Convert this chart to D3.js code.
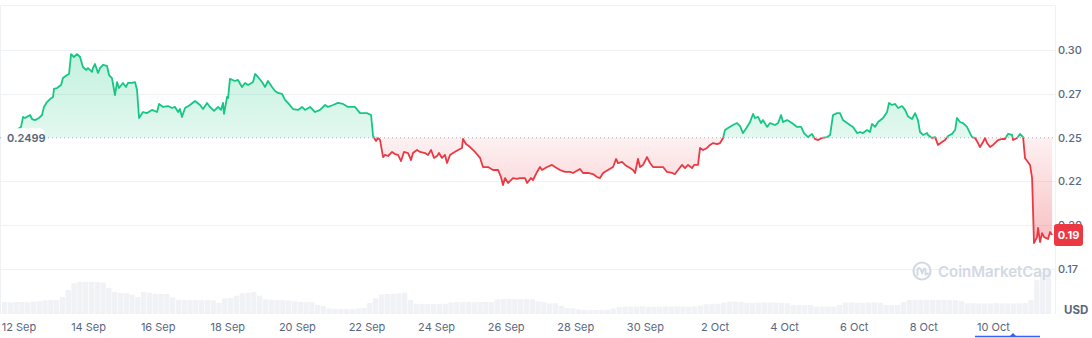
<!DOCTYPE html>
<html><head><meta charset="utf-8">
<script src="https://cdn.jsdelivr.net/npm/d3@7"></script>
<style>html,body{margin:0;padding:0;background:#fff;}svg{display:block;font-family:Inter,"Noto Sans",sans-serif;}</style>
</head><body><svg id="chart" width="1092" height="338"></svg>
<script>
// ---------- DATA ----------
const startTime = "2024-09-11T12:00:00Z";
// hours after startTime
const hours = [
0.3, 5.8, 11.3, 13.4, 14.8, 16.1, 19.6, 21.0, 23.0, 25.8,
27.9, 29.2, 31.3, 33.4, 35.5, 36.1, 38.2, 41.0, 42.3, 45.1,
46.5, 47.9, 49.9, 52.0, 54.1, 56.1, 58.2, 59.6, 62.4, 63.0,
64.4, 66.5, 67.9, 69.9, 72.7, 74.1, 76.1, 78.2, 79.6, 81.0,
83.7, 85.8, 87.2, 89.9, 92.0, 93.4, 94.8, 97.5, 100.3, 103.7,
107.2, 108.6, 111.3, 114.8, 117.5, 119.6, 121.7, 123.0, 124.4, 126.5,
129.9, 133.4, 136.8, 138.9, 141.7, 143.7, 146.5, 149.3, 151.3, 152.7,
153.4, 155.5, 156.2, 157.5, 161.0, 163.0, 165.8, 167.9, 170.0, 173.4,
174.8, 176.8, 179.6, 181.7, 183.7, 186.5, 188.6, 190.6, 193.4, 195.5,
197.5, 201.0, 204.4, 207.2, 209.3, 212.7, 216.2, 219.6, 223.1, 225.1,
228.6, 232.0, 235.5, 238.9, 243.7, 247.2, 249.3, 252.0, 254.8, 256.2,
258.2, 259.6, 261.0, 263.1, 264.4, 266.5, 269.3, 271.3, 273.4, 275.5,
277.5, 280.3, 282.4, 283.7, 286.5, 288.6, 292.0, 294.1, 296.2, 298.2,
300.3, 301.7, 303.7, 305.8, 307.2, 309.3, 311.3, 314.8, 317.5, 318.2,
320.3, 323.1, 326.5, 330.0, 332.0, 335.5, 338.9, 342.4, 344.4, 345.8,
347.2, 349.3, 352.7, 355.5, 357.5, 361.0, 362.4, 365.1, 366.5, 369.3,
371.3, 372.7, 376.2, 379.6, 381.7, 385.1, 388.6, 392.0, 394.1, 398.9,
401.0, 404.4, 407.9, 410.6, 412.7, 414.8, 418.2, 421.7, 423.8, 425.1,
427.9, 430.0, 433.4, 435.5, 436.9, 438.9, 440.3, 442.4, 445.1, 447.2,
449.3, 452.7, 456.2, 458.9, 462.4, 464.4, 466.5, 469.3, 471.3, 473.4,
476.2, 477.6, 480.3, 481.7, 483.8, 486.5, 488.6, 490.7, 493.4, 495.5,
497.6, 498.9, 501.0, 504.4, 507.2, 509.3, 511.3, 514.1, 516.2, 518.2,
519.6, 521.7, 523.8, 525.1, 527.9, 530.0, 533.4, 535.5, 537.6, 538.9,
541.7, 545.1, 548.6, 551.4, 553.4, 556.2, 558.9, 561.0, 563.1, 565.8,
569.3, 571.4, 573.4, 576.2, 578.2, 580.3, 583.1, 585.1, 587.2, 590.0,
592.0, 594.1, 596.9, 598.9, 600.3, 602.4, 604.5, 607.9, 610.7, 612.0,
614.1, 616.2, 618.3, 621.0, 623.1, 625.2, 627.9, 630.0, 632.0, 633.4,
635.5, 638.3, 638.9, 641.7, 643.8, 645.8, 648.6, 650.7, 652.7, 655.5,
657.6, 658.9, 661.0, 663.1, 665.8, 667.9, 669.3, 671.4, 673.4, 674.8,
676.9, 678.3, 679.6, 681.7, 683.8, 687.2, 690.0, 692.0, 694.1, 696.9,
697.6, 700.3, 702.4, 704.5, 705.8, 709.3, 710.7, 712.0, 714.1, 714.8,
716.2, 717.6, 719.0, 721.7, 723.1, 724.5
];
// price in USD
const prices = [
0.2499, 0.2526, 0.2549, 0.2561, 0.2618, 0.2612, 0.2629, 0.2606, 0.2600, 0.2612,
0.2629, 0.2675, 0.2703, 0.2720, 0.2732, 0.2778, 0.2783, 0.2800, 0.2840, 0.2857,
0.2863, 0.2977, 0.2960, 0.2977, 0.2960, 0.2903, 0.2886, 0.2897, 0.2875, 0.2897,
0.2920, 0.2869, 0.2897, 0.2915, 0.2909, 0.2857, 0.2840, 0.2743, 0.2817, 0.2783,
0.2812, 0.2789, 0.2812, 0.2812, 0.2817, 0.2772, 0.2612, 0.2646, 0.2640, 0.2658,
0.2646, 0.2692, 0.2675, 0.2680, 0.2669, 0.2675, 0.2646, 0.2663, 0.2618, 0.2669,
0.2686, 0.2709, 0.2686, 0.2663, 0.2698, 0.2675, 0.2652, 0.2675, 0.2658, 0.2698,
0.2635, 0.2732, 0.2726, 0.2835, 0.2823, 0.2829, 0.2789, 0.2812, 0.2800, 0.2817,
0.2863, 0.2846, 0.2817, 0.2789, 0.2823, 0.2789, 0.2766, 0.2755, 0.2749, 0.2715,
0.2698, 0.2663, 0.2658, 0.2675, 0.2658, 0.2675, 0.2646, 0.2658, 0.2686, 0.2675,
0.2686, 0.2698, 0.2692, 0.2675, 0.2675, 0.2640, 0.2640, 0.2640, 0.2629, 0.2509,
0.2481, 0.2498, 0.2486, 0.2389, 0.2401, 0.2395, 0.2418, 0.2406, 0.2401, 0.2366,
0.2418, 0.2412, 0.2372, 0.2412, 0.2429, 0.2418, 0.2412, 0.2401, 0.2429, 0.2384,
0.2395, 0.2412, 0.2384, 0.2401, 0.2355, 0.2401, 0.2412, 0.2429, 0.2441, 0.2492,
0.2463, 0.2446, 0.2418, 0.2384, 0.2332, 0.2332, 0.2315, 0.2315, 0.2275, 0.2229,
0.2269, 0.2241, 0.2269, 0.2264, 0.2269, 0.2269, 0.2241, 0.2269, 0.2258, 0.2304,
0.2332, 0.2315, 0.2332, 0.2344, 0.2332, 0.2315, 0.2304, 0.2304, 0.2298, 0.2321,
0.2298, 0.2298, 0.2292, 0.2275, 0.2269, 0.2298, 0.2315, 0.2332, 0.2378, 0.2355,
0.2361, 0.2344, 0.2326, 0.2315, 0.2298, 0.2378, 0.2332, 0.2344, 0.2389, 0.2355,
0.2332, 0.2332, 0.2332, 0.2304, 0.2298, 0.2292, 0.2315, 0.2344, 0.2326, 0.2344,
0.2326, 0.2344, 0.2344, 0.2441, 0.2429, 0.2441, 0.2458, 0.2469, 0.2463, 0.2469,
0.2498, 0.2543, 0.2555, 0.2572, 0.2583, 0.2566, 0.2526, 0.2561, 0.2589, 0.2635,
0.2612, 0.2618, 0.2583, 0.2600, 0.2561, 0.2583, 0.2572, 0.2583, 0.2629, 0.2589,
0.2600, 0.2583, 0.2561, 0.2561, 0.2526, 0.2503, 0.2521, 0.2492, 0.2486, 0.2498,
0.2503, 0.2515, 0.2629, 0.2640, 0.2640, 0.2600, 0.2583, 0.2572, 0.2561, 0.2526,
0.2532, 0.2526, 0.2543, 0.2532, 0.2578, 0.2561, 0.2589, 0.2612, 0.2646, 0.2698,
0.2686, 0.2692, 0.2669, 0.2680, 0.2658, 0.2620, 0.2606, 0.2640, 0.2600, 0.2532,
0.2515, 0.2526, 0.2515, 0.2498, 0.2503, 0.2458, 0.2475, 0.2486, 0.2509, 0.2521,
0.2543, 0.2612, 0.2589, 0.2583, 0.2561, 0.2526, 0.2503, 0.2498, 0.2469, 0.2446,
0.2475, 0.2498, 0.2469, 0.2446, 0.2458, 0.2486, 0.2492, 0.2492, 0.2521, 0.2515,
0.2486, 0.2498, 0.2521, 0.2503, 0.2384, 0.2344, 0.2269, 0.1898, 0.1932, 0.1984,
0.1904, 0.1955, 0.1932, 0.1921, 0.1961, 0.1944
];
// volume in millions USD, one value per 4-hour block from startTime
const volumeStepHours = 4;
const volumes = [
6.5, 6.3, 6.6, 6.5, 6.4, 6.8, 7.0, 7.5, 7.7, 7.6,
9.3, 13.1, 16.8, 17.5, 17.6, 17.5, 17.4, 17.2, 14.2, 12.0,
11.5, 11.3, 10.5, 9.3, 12.0, 11.6, 11.0, 10.9, 10.8, 9.0,
7.8, 7.7, 7.6, 7.6, 7.5, 7.6, 7.4, 6.0, 8.5, 8.8,
10.0, 11.4, 11.6, 12.0, 10.0, 8.0, 7.8, 7.6, 7.6, 7.4,
7.0, 6.6, 6.5, 6.4, 5.0, 4.4, 3.0, 2.8, 2.7, 2.7,
2.7, 3.0, 3.3, 6.0, 8.5, 10.6, 10.9, 11.0, 11.2, 11.6,
7.6, 5.6, 5.5, 5.5, 5.4, 5.5, 5.6, 6.2, 6.4, 6.5,
6.5, 6.4, 6.5, 6.6, 6.5, 8.0, 8.2, 8.3, 8.2, 8.1,
8.2, 8.0, 6.8, 6.5, 5.8, 5.8, 4.5, 3.2, 3.1, 2.5,
2.2, 2.1, 2.2, 2.2, 2.3, 3.0, 3.8, 4.0, 4.1, 4.0,
4.2, 4.0, 3.9, 4.0, 4.1, 4.0, 4.2, 4.0, 3.9, 4.1,
4.5, 5.3, 5.5, 5.6, 6.2, 6.7, 6.8, 6.6, 6.2, 6.1,
6.2, 6.3, 6.2, 6.2, 6.0, 5.8, 5.0, 4.9, 4.8, 4.9,
4.0, 4.0, 4.1, 4.0, 5.0, 6.2, 6.3, 6.2, 6.1, 6.2,
6.3, 6.0, 4.9, 4.8, 5.0, 6.5, 7.6, 7.7, 7.8, 7.7,
7.6, 7.7, 7.8, 7.6, 7.5, 7.0, 5.8, 5.9, 5.8, 5.7,
5.8, 5.9, 5.8, 5.8, 5.7, 5.8, 5.9, 7.6, 18.5, 23.0,
23.8
];
const openPrice = 0.2499;
const openPriceLabel = "0.2499";
const lastPriceLabel = "0.19";
const priceTickValues = [0.30, 0.275, 0.25, 0.225, 0.20, 0.175];
const priceTickLabels = ["0.30", "0.27", "0.25", "0.22", "0.20", "0.17"];
const dateTickValues = ["2024-09-12","2024-09-14","2024-09-16","2024-09-18","2024-09-20","2024-09-22","2024-09-24","2024-09-26","2024-09-28","2024-09-30","2024-10-02","2024-10-04","2024-10-06","2024-10-08","2024-10-10"];
const dateTickLabels = ["12 Sep","14 Sep","16 Sep","18 Sep","20 Sep","22 Sep","24 Sep","26 Sep","28 Sep","30 Sep","2 Oct","4 Oct","6 Oct","8 Oct","10 Oct"];
const currencyLabel = "USD";
const watermarkText = "CoinMarketCap";

// ---------- LAYOUT / STYLE ----------
const GREEN = "#16c784", RED = "#ea3943", GRID = "#eff2f5", TEXT = "#58667e";
const plotRight = 1055.5, plotTop = 5.5, volBottom = 314;

const t0 = new Date(startTime).getTime();
const HOUR = 3600e3;
const data = hours.map((h, i) => ({ t: new Date(t0 + h * HOUR), p: prices[i] }));
const lastT = data[data.length - 1].t;

const x = d3.scaleUtc().domain([new Date(t0), lastT]).range([1.6, 1052.1]);
const y = d3.scaleLinear().domain([0.15, 0.325]).range([312.8, 6.2]);
const yVol = d3.scaleLinear().domain([0, 30]).range([volBottom, volBottom - 55]);
const baseY = y(openPrice);

const svg = d3.select("#chart");
const defs = svg.append("defs");

const gG = defs.append("linearGradient").attr("id", "gGreen").attr("gradientUnits", "userSpaceOnUse")
  .attr("x1", 0).attr("x2", 0).attr("y1", y(0.30)).attr("y2", baseY);
gG.append("stop").attr("offset", 0).attr("stop-color", GREEN).attr("stop-opacity", 0.26);
gG.append("stop").attr("offset", 1).attr("stop-color", GREEN).attr("stop-opacity", 0.12);
const gR = defs.append("linearGradient").attr("id", "gRed").attr("gradientUnits", "userSpaceOnUse")
  .attr("x1", 0).attr("x2", 0).attr("y1", baseY).attr("y2", y(0.19));
gR.append("stop").attr("offset", 0).attr("stop-color", RED).attr("stop-opacity", 0.07);
gR.append("stop").attr("offset", 1).attr("stop-color", RED).attr("stop-opacity", 0.32);

defs.append("clipPath").attr("id", "clipAbove").append("rect")
  .attr("x", 0).attr("y", 0).attr("width", 1092).attr("height", baseY);
defs.append("clipPath").attr("id", "clipBelow").append("rect")
  .attr("x", 0).attr("y", baseY).attr("width", 1092).attr("height", 338 - baseY);

// frame + grid
svg.append("line").attr("x1", 0.5).attr("x2", plotRight).attr("y1", plotTop).attr("y2", plotTop).attr("stroke", GRID);
svg.append("line").attr("x1", 0.5).attr("x2", 0.5).attr("y1", plotTop).attr("y2", volBottom).attr("stroke", GRID);
svg.append("line").attr("x1", plotRight).attr("x2", plotRight).attr("y1", plotTop).attr("y2", volBottom).attr("stroke", GRID);
svg.append("g").selectAll("line").data(priceTickValues.filter(v => Math.abs(v - 0.25) > 1e-9)).join("line")
  .attr("x1", 0.5).attr("x2", plotRight)
  .attr("y1", d => Math.round(y(d)) + 0.5).attr("y2", d => Math.round(y(d)) + 0.5)
  .attr("stroke", GRID);

// volume bars
const vStart = t => new Date(t0 + t * volumeStepHours * HOUR);
svg.append("g").selectAll("rect").data(volumes).join("rect")
  .attr("x", (d, i) => x(vStart(i)) + 0.2)
  .attr("width", (d, i) => Math.max(0.5, x(vStart(i + 1)) - x(vStart(i)) - 0.5))
  .attr("y", d => yVol(d))
  .attr("height", d => volBottom - yVol(d))
  .attr("fill", "#f0f2f6");

// watermark
const wm = svg.append("g").attr("transform", "translate(922,271)");
wm.append("circle").attr("r", 8.5).attr("fill", "none").attr("stroke", "#d3d9e3").attr("stroke-width", 2.2);
wm.append("path").attr("d", "M-4.5,4 L-4.5,-1.5 Q-3,-4.5 -1.2,-1.5 L0.2,2.5 Q1.8,-4.5 3.4,-1.5 L3.6,3.5 L6,2.5")
  .attr("fill", "none").attr("stroke", "#d3d9e3").attr("stroke-width", 2).attr("stroke-linejoin", "round").attr("stroke-linecap", "round");
svg.append("text").attr("x", 938).attr("y", 276.5).attr("fill", "#d3d9e3")
  .attr("font-size", 15).attr("font-weight", 600).text(watermarkText);

// areas
const area = d3.area().x(d => x(d.t)).y0(baseY).y1(d => y(d.p));
svg.append("path").datum(data).attr("d", area).attr("fill", "url(#gGreen)").attr("clip-path", "url(#clipAbove)");
svg.append("path").datum(data).attr("d", area).attr("fill", "url(#gRed)").attr("clip-path", "url(#clipBelow)");

// baseline dotted
svg.append("line").attr("x1", 0).attr("x2", plotRight).attr("y1", baseY).attr("y2", baseY)
  .attr("stroke", "#a6b0c3").attr("stroke-width", 1).attr("stroke-dasharray", "1,3");

// price line
const line = d3.line().x(d => x(d.t)).y(d => y(d.p));
svg.append("path").datum(data).attr("d", line).attr("fill", "none").attr("stroke", GREEN)
  .attr("stroke-width", 1.8).attr("stroke-linejoin", "round").attr("clip-path", "url(#clipAbove)");
svg.append("path").datum(data).attr("d", line).attr("fill", "none").attr("stroke", RED)
  .attr("stroke-width", 1.8).attr("stroke-linejoin", "round").attr("clip-path", "url(#clipBelow)");

// open price label
svg.append("rect").attr("x", 2).attr("y", baseY - 9.5).attr("width", 42).attr("height", 18).attr("rx", 4).attr("fill", "#fff");
svg.append("text").attr("x", 7).attr("y", baseY + 4).attr("fill", TEXT).attr("font-size", 11).attr("font-weight", 600).text(openPriceLabel);

// right axis labels
svg.append("g").selectAll("text").data(priceTickValues).join("text")
  .attr("x", 1058).attr("y", d => y(d) + 4).attr("fill", TEXT).attr("font-size", 11).attr("font-weight", 500)
  .text((d, i) => priceTickLabels[i]);

// last price tag (covers the lower part of the 0.20 tick, as in the original)
const lastY = y(prices[prices.length - 1]);
svg.append("rect").attr("x", 1054).attr("y", lastY - 11).attr("width", 29).attr("height", 22).attr("rx", 3).attr("fill", RED);
svg.append("text").attr("x", 1068.5).attr("y", lastY + 4).attr("text-anchor", "middle").attr("fill", "#fff")
  .attr("font-size", 11).attr("font-weight", 700).text(lastPriceLabel);

// USD
svg.append("text").attr("x", 1064).attr("y", 314).attr("fill", TEXT).attr("font-size", 11.5).attr("font-weight", 700).text(currencyLabel);

// x axis labels
svg.append("g").selectAll("text").data(dateTickValues).join("text")
  .attr("x", d => x(new Date(d + "T00:00:00Z"))).attr("y", 331).attr("text-anchor", "middle")
  .attr("fill", TEXT).attr("font-size", 11).text((d, i) => dateTickLabels[i]);

// range indicator
svg.append("line").attr("x1", 975).attr("x2", 1040).attr("y1", 336.5).attr("y2", 336.5).attr("stroke", "#3861fb").attr("stroke-width", 1.5);
svg.append("path").attr("d", "M1010,336 L1013,333 L1016,336 Z").attr("fill", "#3861fb");
</script></body></html>
